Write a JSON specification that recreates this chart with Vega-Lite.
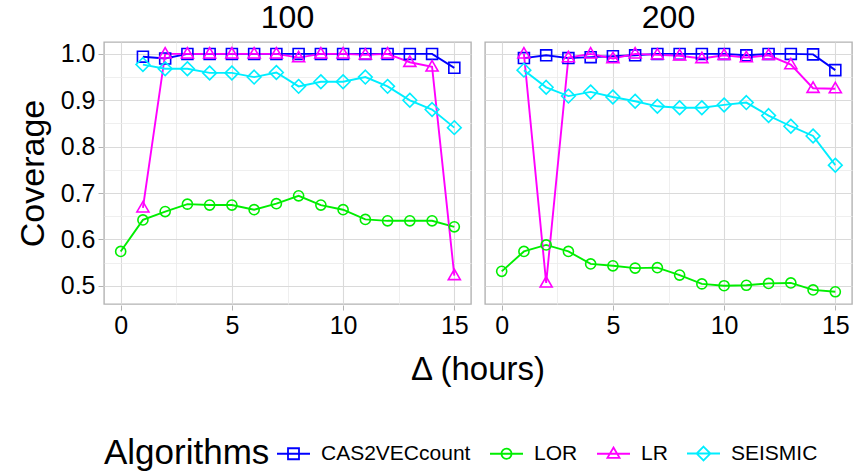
{
  "$schema": "https://vega.github.io/schema/vega-lite/v6.json",
  "padding": {"left": 16, "top": 2, "right": 0, "bottom": 0},
  "background": "white",
  "data": {"values": [
    {"N":"100","Algorithm":"CAS2VECcount","Delta":1,"Coverage":0.994},
    {"N":"100","Algorithm":"CAS2VECcount","Delta":2,"Coverage":0.99},
    {"N":"100","Algorithm":"CAS2VECcount","Delta":3,"Coverage":1.0},
    {"N":"100","Algorithm":"CAS2VECcount","Delta":4,"Coverage":1.0},
    {"N":"100","Algorithm":"CAS2VECcount","Delta":5,"Coverage":1.0},
    {"N":"100","Algorithm":"CAS2VECcount","Delta":6,"Coverage":1.0},
    {"N":"100","Algorithm":"CAS2VECcount","Delta":7,"Coverage":1.0},
    {"N":"100","Algorithm":"CAS2VECcount","Delta":8,"Coverage":1.0},
    {"N":"100","Algorithm":"CAS2VECcount","Delta":9,"Coverage":1.0},
    {"N":"100","Algorithm":"CAS2VECcount","Delta":10,"Coverage":1.0},
    {"N":"100","Algorithm":"CAS2VECcount","Delta":11,"Coverage":1.0},
    {"N":"100","Algorithm":"CAS2VECcount","Delta":12,"Coverage":1.0},
    {"N":"100","Algorithm":"CAS2VECcount","Delta":13,"Coverage":1.0},
    {"N":"100","Algorithm":"CAS2VECcount","Delta":14,"Coverage":1.0},
    {"N":"100","Algorithm":"CAS2VECcount","Delta":15,"Coverage":0.97},
    {"N":"100","Algorithm":"LOR","Delta":0,"Coverage":0.574},
    {"N":"100","Algorithm":"LOR","Delta":1,"Coverage":0.642},
    {"N":"100","Algorithm":"LOR","Delta":2,"Coverage":0.66},
    {"N":"100","Algorithm":"LOR","Delta":3,"Coverage":0.676},
    {"N":"100","Algorithm":"LOR","Delta":4,"Coverage":0.674},
    {"N":"100","Algorithm":"LOR","Delta":5,"Coverage":0.674},
    {"N":"100","Algorithm":"LOR","Delta":6,"Coverage":0.664},
    {"N":"100","Algorithm":"LOR","Delta":7,"Coverage":0.677},
    {"N":"100","Algorithm":"LOR","Delta":8,"Coverage":0.694},
    {"N":"100","Algorithm":"LOR","Delta":9,"Coverage":0.674},
    {"N":"100","Algorithm":"LOR","Delta":10,"Coverage":0.664},
    {"N":"100","Algorithm":"LOR","Delta":11,"Coverage":0.643},
    {"N":"100","Algorithm":"LOR","Delta":12,"Coverage":0.64},
    {"N":"100","Algorithm":"LOR","Delta":13,"Coverage":0.64},
    {"N":"100","Algorithm":"LOR","Delta":14,"Coverage":0.64},
    {"N":"100","Algorithm":"LOR","Delta":15,"Coverage":0.627},
    {"N":"100","Algorithm":"LR","Delta":1,"Coverage":0.668},
    {"N":"100","Algorithm":"LR","Delta":2,"Coverage":1.0},
    {"N":"100","Algorithm":"LR","Delta":3,"Coverage":1.0},
    {"N":"100","Algorithm":"LR","Delta":4,"Coverage":1.0},
    {"N":"100","Algorithm":"LR","Delta":5,"Coverage":1.0},
    {"N":"100","Algorithm":"LR","Delta":6,"Coverage":1.0},
    {"N":"100","Algorithm":"LR","Delta":7,"Coverage":1.0},
    {"N":"100","Algorithm":"LR","Delta":8,"Coverage":0.992},
    {"N":"100","Algorithm":"LR","Delta":9,"Coverage":1.0},
    {"N":"100","Algorithm":"LR","Delta":10,"Coverage":1.0},
    {"N":"100","Algorithm":"LR","Delta":11,"Coverage":0.998},
    {"N":"100","Algorithm":"LR","Delta":12,"Coverage":1.0},
    {"N":"100","Algorithm":"LR","Delta":13,"Coverage":0.982},
    {"N":"100","Algorithm":"LR","Delta":14,"Coverage":0.972},
    {"N":"100","Algorithm":"LR","Delta":15,"Coverage":0.522},
    {"N":"100","Algorithm":"SEISMIC","Delta":1,"Coverage":0.977},
    {"N":"100","Algorithm":"SEISMIC","Delta":2,"Coverage":0.968},
    {"N":"100","Algorithm":"SEISMIC","Delta":3,"Coverage":0.968},
    {"N":"100","Algorithm":"SEISMIC","Delta":4,"Coverage":0.959},
    {"N":"100","Algorithm":"SEISMIC","Delta":5,"Coverage":0.959},
    {"N":"100","Algorithm":"SEISMIC","Delta":6,"Coverage":0.95},
    {"N":"100","Algorithm":"SEISMIC","Delta":7,"Coverage":0.96},
    {"N":"100","Algorithm":"SEISMIC","Delta":8,"Coverage":0.93},
    {"N":"100","Algorithm":"SEISMIC","Delta":9,"Coverage":0.94},
    {"N":"100","Algorithm":"SEISMIC","Delta":10,"Coverage":0.94},
    {"N":"100","Algorithm":"SEISMIC","Delta":11,"Coverage":0.95},
    {"N":"100","Algorithm":"SEISMIC","Delta":12,"Coverage":0.93},
    {"N":"100","Algorithm":"SEISMIC","Delta":13,"Coverage":0.9},
    {"N":"100","Algorithm":"SEISMIC","Delta":14,"Coverage":0.88},
    {"N":"100","Algorithm":"SEISMIC","Delta":15,"Coverage":0.841},
    {"N":"200","Algorithm":"CAS2VECcount","Delta":1,"Coverage":0.991},
    {"N":"200","Algorithm":"CAS2VECcount","Delta":2,"Coverage":0.997},
    {"N":"200","Algorithm":"CAS2VECcount","Delta":3,"Coverage":0.991},
    {"N":"200","Algorithm":"CAS2VECcount","Delta":4,"Coverage":0.993},
    {"N":"200","Algorithm":"CAS2VECcount","Delta":5,"Coverage":0.995},
    {"N":"200","Algorithm":"CAS2VECcount","Delta":6,"Coverage":0.997},
    {"N":"200","Algorithm":"CAS2VECcount","Delta":7,"Coverage":1.0},
    {"N":"200","Algorithm":"CAS2VECcount","Delta":8,"Coverage":1.0},
    {"N":"200","Algorithm":"CAS2VECcount","Delta":9,"Coverage":1.0},
    {"N":"200","Algorithm":"CAS2VECcount","Delta":10,"Coverage":1.0},
    {"N":"200","Algorithm":"CAS2VECcount","Delta":11,"Coverage":0.997},
    {"N":"200","Algorithm":"CAS2VECcount","Delta":12,"Coverage":1.0},
    {"N":"200","Algorithm":"CAS2VECcount","Delta":13,"Coverage":1.0},
    {"N":"200","Algorithm":"CAS2VECcount","Delta":14,"Coverage":0.999},
    {"N":"200","Algorithm":"CAS2VECcount","Delta":15,"Coverage":0.965},
    {"N":"200","Algorithm":"LOR","Delta":0,"Coverage":0.531},
    {"N":"200","Algorithm":"LOR","Delta":1,"Coverage":0.574},
    {"N":"200","Algorithm":"LOR","Delta":2,"Coverage":0.588},
    {"N":"200","Algorithm":"LOR","Delta":3,"Coverage":0.574},
    {"N":"200","Algorithm":"LOR","Delta":4,"Coverage":0.547},
    {"N":"200","Algorithm":"LOR","Delta":5,"Coverage":0.543},
    {"N":"200","Algorithm":"LOR","Delta":6,"Coverage":0.538},
    {"N":"200","Algorithm":"LOR","Delta":7,"Coverage":0.539},
    {"N":"200","Algorithm":"LOR","Delta":8,"Coverage":0.523},
    {"N":"200","Algorithm":"LOR","Delta":9,"Coverage":0.504},
    {"N":"200","Algorithm":"LOR","Delta":10,"Coverage":0.5},
    {"N":"200","Algorithm":"LOR","Delta":11,"Coverage":0.501},
    {"N":"200","Algorithm":"LOR","Delta":12,"Coverage":0.505},
    {"N":"200","Algorithm":"LOR","Delta":13,"Coverage":0.506},
    {"N":"200","Algorithm":"LOR","Delta":14,"Coverage":0.491},
    {"N":"200","Algorithm":"LOR","Delta":15,"Coverage":0.487},
    {"N":"200","Algorithm":"LR","Delta":1,"Coverage":1.0},
    {"N":"200","Algorithm":"LR","Delta":2,"Coverage":0.506},
    {"N":"200","Algorithm":"LR","Delta":3,"Coverage":0.992},
    {"N":"200","Algorithm":"LR","Delta":4,"Coverage":1.0},
    {"N":"200","Algorithm":"LR","Delta":5,"Coverage":0.99},
    {"N":"200","Algorithm":"LR","Delta":6,"Coverage":1.0},
    {"N":"200","Algorithm":"LR","Delta":7,"Coverage":0.998},
    {"N":"200","Algorithm":"LR","Delta":8,"Coverage":0.996},
    {"N":"200","Algorithm":"LR","Delta":9,"Coverage":0.99},
    {"N":"200","Algorithm":"LR","Delta":10,"Coverage":0.997},
    {"N":"200","Algorithm":"LR","Delta":11,"Coverage":0.992},
    {"N":"200","Algorithm":"LR","Delta":12,"Coverage":0.997},
    {"N":"200","Algorithm":"LR","Delta":13,"Coverage":0.977},
    {"N":"200","Algorithm":"LR","Delta":14,"Coverage":0.926},
    {"N":"200","Algorithm":"LR","Delta":15,"Coverage":0.925},
    {"N":"200","Algorithm":"SEISMIC","Delta":1,"Coverage":0.965},
    {"N":"200","Algorithm":"SEISMIC","Delta":2,"Coverage":0.928},
    {"N":"200","Algorithm":"SEISMIC","Delta":3,"Coverage":0.909},
    {"N":"200","Algorithm":"SEISMIC","Delta":4,"Coverage":0.918},
    {"N":"200","Algorithm":"SEISMIC","Delta":5,"Coverage":0.907},
    {"N":"200","Algorithm":"SEISMIC","Delta":6,"Coverage":0.898},
    {"N":"200","Algorithm":"SEISMIC","Delta":7,"Coverage":0.887},
    {"N":"200","Algorithm":"SEISMIC","Delta":8,"Coverage":0.884},
    {"N":"200","Algorithm":"SEISMIC","Delta":9,"Coverage":0.884},
    {"N":"200","Algorithm":"SEISMIC","Delta":10,"Coverage":0.89},
    {"N":"200","Algorithm":"SEISMIC","Delta":11,"Coverage":0.895},
    {"N":"200","Algorithm":"SEISMIC","Delta":12,"Coverage":0.867},
    {"N":"200","Algorithm":"SEISMIC","Delta":13,"Coverage":0.844},
    {"N":"200","Algorithm":"SEISMIC","Delta":14,"Coverage":0.823},
    {"N":"200","Algorithm":"SEISMIC","Delta":15,"Coverage":0.76}
  ]},
  "facet": {
    "column": {
      "field": "N", "type": "ordinal",
      "header": {
        "title": "Δ (hours)", "titleOrient": "bottom", "titleFontSize": 33, "titleFontWeight": "normal", "titleColor": "black", "titlePadding": 6,
        "labelOrient": "top", "labelFontSize": 32, "labelColor": "black", "labelPadding": 6
      }
    }
  },
  "spacing": 12,
  "spec": {
    "width": 367,
    "height": 262,
    "encoding": {
      "x": {
        "field": "Delta", "type": "quantitative",
        "scale": {"domain": [-0.75, 15.75], "nice": false, "zero": false},
        "axis": {
          "title": null,
          "values": [0, 2.5, 5, 7.5, 10, 12.5, 15],
          "labelExpr": "datum.value % 5 === 0 ? datum.label : ''",
          "gridColor": {"condition": {"test": "datum.value % 5 === 0", "value": "#dadada"}, "value": "#ebebeb"},
          "gridWidth": {"condition": {"test": "datum.value % 5 === 0", "value": 1.1}, "value": 0.8},
          "tickOpacity": {"condition": {"test": "datum.value % 5 === 0", "value": 1}, "value": 0}
        }
      },
      "y": {
        "field": "Coverage", "type": "quantitative",
        "scale": {"domain": [0.4606, 1.0257], "nice": false, "zero": false},
        "axis": {
          "title": "Coverage",
          "titleFontSize": 34,
          "values": [0.5, 0.55, 0.6, 0.65, 0.7, 0.75, 0.8, 0.85, 0.9, 0.95, 1.0],
          "labelExpr": "round(datum.value * 20) % 2 === 0 ? format(datum.value, '.1f') : ''",
          "gridColor": {"condition": {"test": "round(datum.value * 20) % 2 === 0", "value": "#dadada"}, "value": "#ebebeb"},
          "gridWidth": {"condition": {"test": "round(datum.value * 20) % 2 === 0", "value": 1.1}, "value": 0.8},
          "tickOpacity": {"condition": {"test": "round(datum.value * 20) % 2 === 0", "value": 1}, "value": 0}
        }
      },
      "color": {
        "field": "Algorithm", "type": "nominal",
        "scale": {"domain": ["CAS2VECcount", "LOR", "LR", "SEISMIC"], "range": ["#0000ff", "#00ee00", "#ff00ff", "#00eeff"]},
        "legend": {
          "title": "Algorithms",
          "orient": "bottom",
          "direction": "horizontal",
          "titleOrient": "left",
          "titleFontSize": 35,
          "titleFontWeight": "normal",
          "titleColor": "black",
          "titlePadding": 13,
          "titleBaseline": "middle",
          "labelFontSize": 21,
          "labelColor": "black",
          "labelOffset": 17,
          "columnPadding": 15,
          "symbolSize": 121,
          "symbolStrokeWidth": 1.8,
          "offset": 56,
          "encode": {
            "symbols": {
              "update": {
                "shape": {"signal": "datum.value === 'CAS2VECcount' ? 'M-3,0H3M-1,-1H1V1H-1Z' : datum.value === 'LOR' ? 'M-3,0H3M0.92,0A0.92,0.92,0,1,1,-0.92,0A0.92,0.92,0,1,1,0.92,0Z' : datum.value === 'LR' ? 'M-3,0H3M0,-1.15L1.1,0.75L-1.1,0.75Z' : 'M-3,0H3M0,-1.25L1.25,0L0,1.25L-1.25,0Z'"},
                "fill": {"value": "transparent"}
              }
            }
          }
        }
      }
    },
    "layer": [
      {"mark": {"type": "line", "strokeWidth": 1.9}, "encoding": {}},
      {
        "mark": {"type": "point", "filled": false, "strokeWidth": 1.6, "size": 120, "opacity": 1},
        "encoding": {
          "shape": {
            "field": "Algorithm", "type": "nominal",
            "scale": {"domain": ["LOR", "CAS2VECcount", "LR", "SEISMIC"], "range": ["M0.92,0A0.92,0.92,0,1,1,-0.92,0A0.92,0.92,0,1,1,0.92,0Z", "M-1,-1H1V1H-1Z", "M0,-1.15L1.1,0.75L-1.1,0.75Z", "M0,-1.25L1.25,0L0,1.25L-1.25,0Z"]},
            "legend": null
          }
        }
      }
    ]
  },
  "config": {
    "font": "Liberation Sans",
    "view": {"stroke": "#b3b3b3", "strokeWidth": 1.4},
    "axis": {
      "domain": false,
      "tickColor": "#b3b3b3",
      "tickSize": 5,
      "tickWidth": 1,
      "labelFontSize": 25,
      "labelColor": "black",
      "labelPadding": 3,
      "titleFontSize": 33,
      "titleFontWeight": "normal",
      "titleColor": "black",
      "grid": true
    },
    "axisX": {"titlePadding": 4},
    "axisY": {"titlePadding": 10}
  }
}
